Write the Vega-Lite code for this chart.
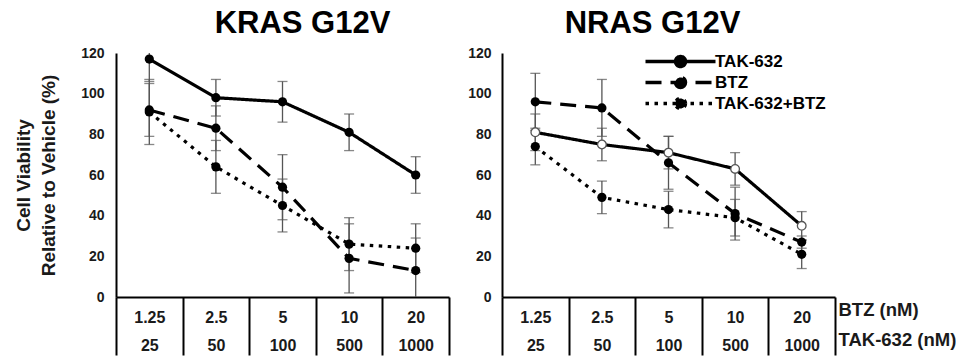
{
  "$schema": "https://vega.github.io/schema/vega-lite/v6.json",
  "padding": {"left": 14, "top": 8, "right": 0, "bottom": 0},
  "config": {
    "view": {"stroke": null},
    "font": "Liberation Sans",
    "concat": {"spacing": 17}
  },
  "datasets": {
    "viab": [
      {"panel": "KRAS", "dose": "1.25|25", "series": "TAK-632", "mean": 117, "err": 11},
      {"panel": "KRAS", "dose": "2.5|50", "series": "TAK-632", "mean": 98, "err": 9},
      {"panel": "KRAS", "dose": "5|100", "series": "TAK-632", "mean": 96, "err": 10},
      {"panel": "KRAS", "dose": "10|500", "series": "TAK-632", "mean": 81, "err": 9},
      {"panel": "KRAS", "dose": "20|1000", "series": "TAK-632", "mean": 60, "err": 9},
      {"panel": "KRAS", "dose": "1.25|25", "series": "BTZ", "mean": 92, "err": 13},
      {"panel": "KRAS", "dose": "2.5|50", "series": "BTZ", "mean": 83, "err": 11},
      {"panel": "KRAS", "dose": "5|100", "series": "BTZ", "mean": 54, "err": 16},
      {"panel": "KRAS", "dose": "10|500", "series": "BTZ", "mean": 19, "err": 17},
      {"panel": "KRAS", "dose": "20|1000", "series": "BTZ", "mean": 13, "err": 16},
      {"panel": "KRAS", "dose": "1.25|25", "series": "TAK-632+BTZ", "mean": 91, "err": 16},
      {"panel": "KRAS", "dose": "2.5|50", "series": "TAK-632+BTZ", "mean": 64, "err": 13},
      {"panel": "KRAS", "dose": "5|100", "series": "TAK-632+BTZ", "mean": 45, "err": 13},
      {"panel": "KRAS", "dose": "10|500", "series": "TAK-632+BTZ", "mean": 26, "err": 13},
      {"panel": "KRAS", "dose": "20|1000", "series": "TAK-632+BTZ", "mean": 24, "err": 12},
      {"panel": "NRAS", "dose": "1.25|25", "series": "TAK-632", "mean": 81, "err": 9},
      {"panel": "NRAS", "dose": "2.5|50", "series": "TAK-632", "mean": 75, "err": 8},
      {"panel": "NRAS", "dose": "5|100", "series": "TAK-632", "mean": 71, "err": 8},
      {"panel": "NRAS", "dose": "10|500", "series": "TAK-632", "mean": 63, "err": 8},
      {"panel": "NRAS", "dose": "20|1000", "series": "TAK-632", "mean": 35, "err": 7},
      {"panel": "NRAS", "dose": "1.25|25", "series": "BTZ", "mean": 96, "err": 14},
      {"panel": "NRAS", "dose": "2.5|50", "series": "BTZ", "mean": 93, "err": 14},
      {"panel": "NRAS", "dose": "5|100", "series": "BTZ", "mean": 66, "err": 13},
      {"panel": "NRAS", "dose": "10|500", "series": "BTZ", "mean": 41, "err": 13},
      {"panel": "NRAS", "dose": "20|1000", "series": "BTZ", "mean": 27, "err": 3},
      {"panel": "NRAS", "dose": "1.25|25", "series": "TAK-632+BTZ", "mean": 74, "err": 9},
      {"panel": "NRAS", "dose": "2.5|50", "series": "TAK-632+BTZ", "mean": 49, "err": 8},
      {"panel": "NRAS", "dose": "5|100", "series": "TAK-632+BTZ", "mean": 43, "err": 9},
      {"panel": "NRAS", "dose": "10|500", "series": "TAK-632+BTZ", "mean": 39, "err": 9},
      {"panel": "NRAS", "dose": "20|1000", "series": "TAK-632+BTZ", "mean": 21, "err": 7}
    ]
  },
  "resolve": {"scale": {"strokeDash": "independent"}, "legend": {"strokeDash": "independent"}},
  "hconcat": [
    {
      "width": 333,
      "height": 244,
      "data": {"name": "viab"},
      "transform": [{"filter": "datum.panel === 'KRAS'"}],
      "title": {"text": "KRAS G12V", "fontSize": 31, "fontWeight": "bold", "color": "black", "dx": 20, "offset": -18, "baseline": "alphabetic"},
      "encoding": {
        "x": {
          "field": "dose", "type": "ordinal",
          "sort": ["1.25|25", "2.5|50", "5|100", "10|500", "20|1000"],
          "scale": {"type": "band", "paddingInner": 0, "paddingOuter": 0},
          "axis": {
            "title": null, "labelAngle": 0, "labelExpr": "split(datum.label, '|')",
            "labelFontSize": 16, "labelFontWeight": "bold", "labelColor": "#1a1a1a",
            "labelLineHeight": 28, "labelBaseline": "top", "labelPadding": -46,
            "tickBand": "extent", "tickSize": 58, "tickColor": "black", "tickWidth": 2,
            "domainColor": "black", "domainWidth": 2
          }
        }
      },
      "layer": [
        {
          "mark": {"type": "errorbar", "clip": true, "ticks": {"size": 10, "thickness": 1.3, "color": "#555"}, "rule": {"color": "#555", "strokeWidth": 1.3}},
          "encoding": {
            "y": {"field": "mean", "type": "quantitative", "scale": {"domain": [0, 120]},
              "axis": {"title": ["Cell Viability", "Relative to Vehicle (%)"], "titleFontSize": 19, "titleFontWeight": "bold", "titleColor": "#1a1a1a", "titleLineHeight": 25, "titlePadding": 22,
                "values": [0, 20, 40, 60, 80, 100, 120], "ticks": false, "grid": false, "labelFontSize": 14, "labelFontWeight": "bold", "labelColor": "#1a1a1a", "labelPadding": 12, "domainColor": "black", "domainWidth": 2}},
            "yError": {"field": "err"}
          }
        },
        {
          "mark": {"type": "line", "color": "black", "strokeWidth": 3.2},
          "encoding": {
            "y": {"field": "mean", "type": "quantitative"},
            "strokeDash": {"field": "series", "type": "nominal", "scale": {"domain": ["TAK-632", "BTZ", "TAK-632+BTZ"], "range": [[1, 0], [16, 9], [3.5, 5.5]]}, "legend": null}
          }
        },
        {
          "mark": {"type": "point", "filled": true, "color": "black", "size": 85, "opacity": 1},
          "encoding": {"y": {"field": "mean", "type": "quantitative"}}
        }
      ]
    },
    {
      "width": 333,
      "height": 244,
      "data": {"name": "viab"},
      "transform": [{"filter": "datum.panel === 'NRAS'"}],
      "title": {"text": "NRAS G12V", "fontSize": 31, "fontWeight": "bold", "color": "black", "dx": -16, "offset": -18, "baseline": "alphabetic"},
      "encoding": {
        "x": {
          "field": "dose", "type": "ordinal",
          "sort": ["1.25|25", "2.5|50", "5|100", "10|500", "20|1000"],
          "scale": {"type": "band", "paddingInner": 0, "paddingOuter": 0},
          "axis": {
            "title": ["BTZ (nM)", "TAK-632 (nM)"], "titleFontSize": 18.5, "titleFontWeight": "bold", "titleColor": "#1a1a1a",
            "titleAlign": "left", "titleBaseline": "top", "titleLineHeight": 30, "titleX": 336, "titleY": 3, "titleAngle": 0,
            "labelAngle": 0, "labelExpr": "split(datum.label, '|')",
            "labelFontSize": 16, "labelFontWeight": "bold", "labelColor": "#1a1a1a",
            "labelLineHeight": 28, "labelBaseline": "top", "labelPadding": -46,
            "tickBand": "extent", "tickSize": 58, "tickColor": "black", "tickWidth": 2,
            "domainColor": "black", "domainWidth": 2
          }
        }
      },
      "layer": [
        {
          "mark": {"type": "errorbar", "clip": true, "ticks": {"size": 10, "thickness": 1.3, "color": "#555"}, "rule": {"color": "#555", "strokeWidth": 1.3}},
          "encoding": {
            "y": {"field": "mean", "type": "quantitative", "scale": {"domain": [0, 120]},
              "axis": {"title": null, "values": [0, 20, 40, 60, 80, 100, 120], "ticks": false, "grid": false, "labelFontSize": 14, "labelFontWeight": "bold", "labelColor": "#1a1a1a", "labelPadding": 11, "domainColor": "black", "domainWidth": 2}},
            "yError": {"field": "err"}
          }
        },
        {
          "mark": {"type": "line", "color": "black", "strokeWidth": 3.2},
          "encoding": {
            "y": {"field": "mean", "type": "quantitative"},
            "strokeDash": {"field": "series", "type": "nominal", "scale": {"domain": ["TAK-632", "BTZ", "TAK-632+BTZ"], "range": [[1, 0], [16, 9], [3.5, 5.5]]},
              "legend": {"title": null, "orient": "none", "legendX": 170, "legendY": 0,
                "symbolType": "M-7,0L7,0M1,0A1,1,0,1,1,-1,0A1,1,0,1,1,1,0Z",
                "symbolSize": 100, "symbolStrokeWidth": 3.5, "symbolStrokeColor": "black", "symbolFillColor": "black",
                "labelFontSize": 17, "labelFontWeight": "bold", "labelColor": "black", "labelOffset": 26, "rowPadding": -5}}
          }
        },
        {
          "transform": [{"filter": "datum.series !== 'TAK-632'"}],
          "mark": {"type": "point", "filled": true, "color": "black", "size": 85, "opacity": 1},
          "encoding": {"y": {"field": "mean", "type": "quantitative"}}
        },
        {
          "transform": [{"filter": "datum.series === 'TAK-632'"}],
          "mark": {"type": "point", "filled": false, "fill": "white", "stroke": "#555", "strokeWidth": 1.3, "size": 75, "opacity": 1},
          "encoding": {"y": {"field": "mean", "type": "quantitative"}}
        }
      ]
    }
  ]
}
